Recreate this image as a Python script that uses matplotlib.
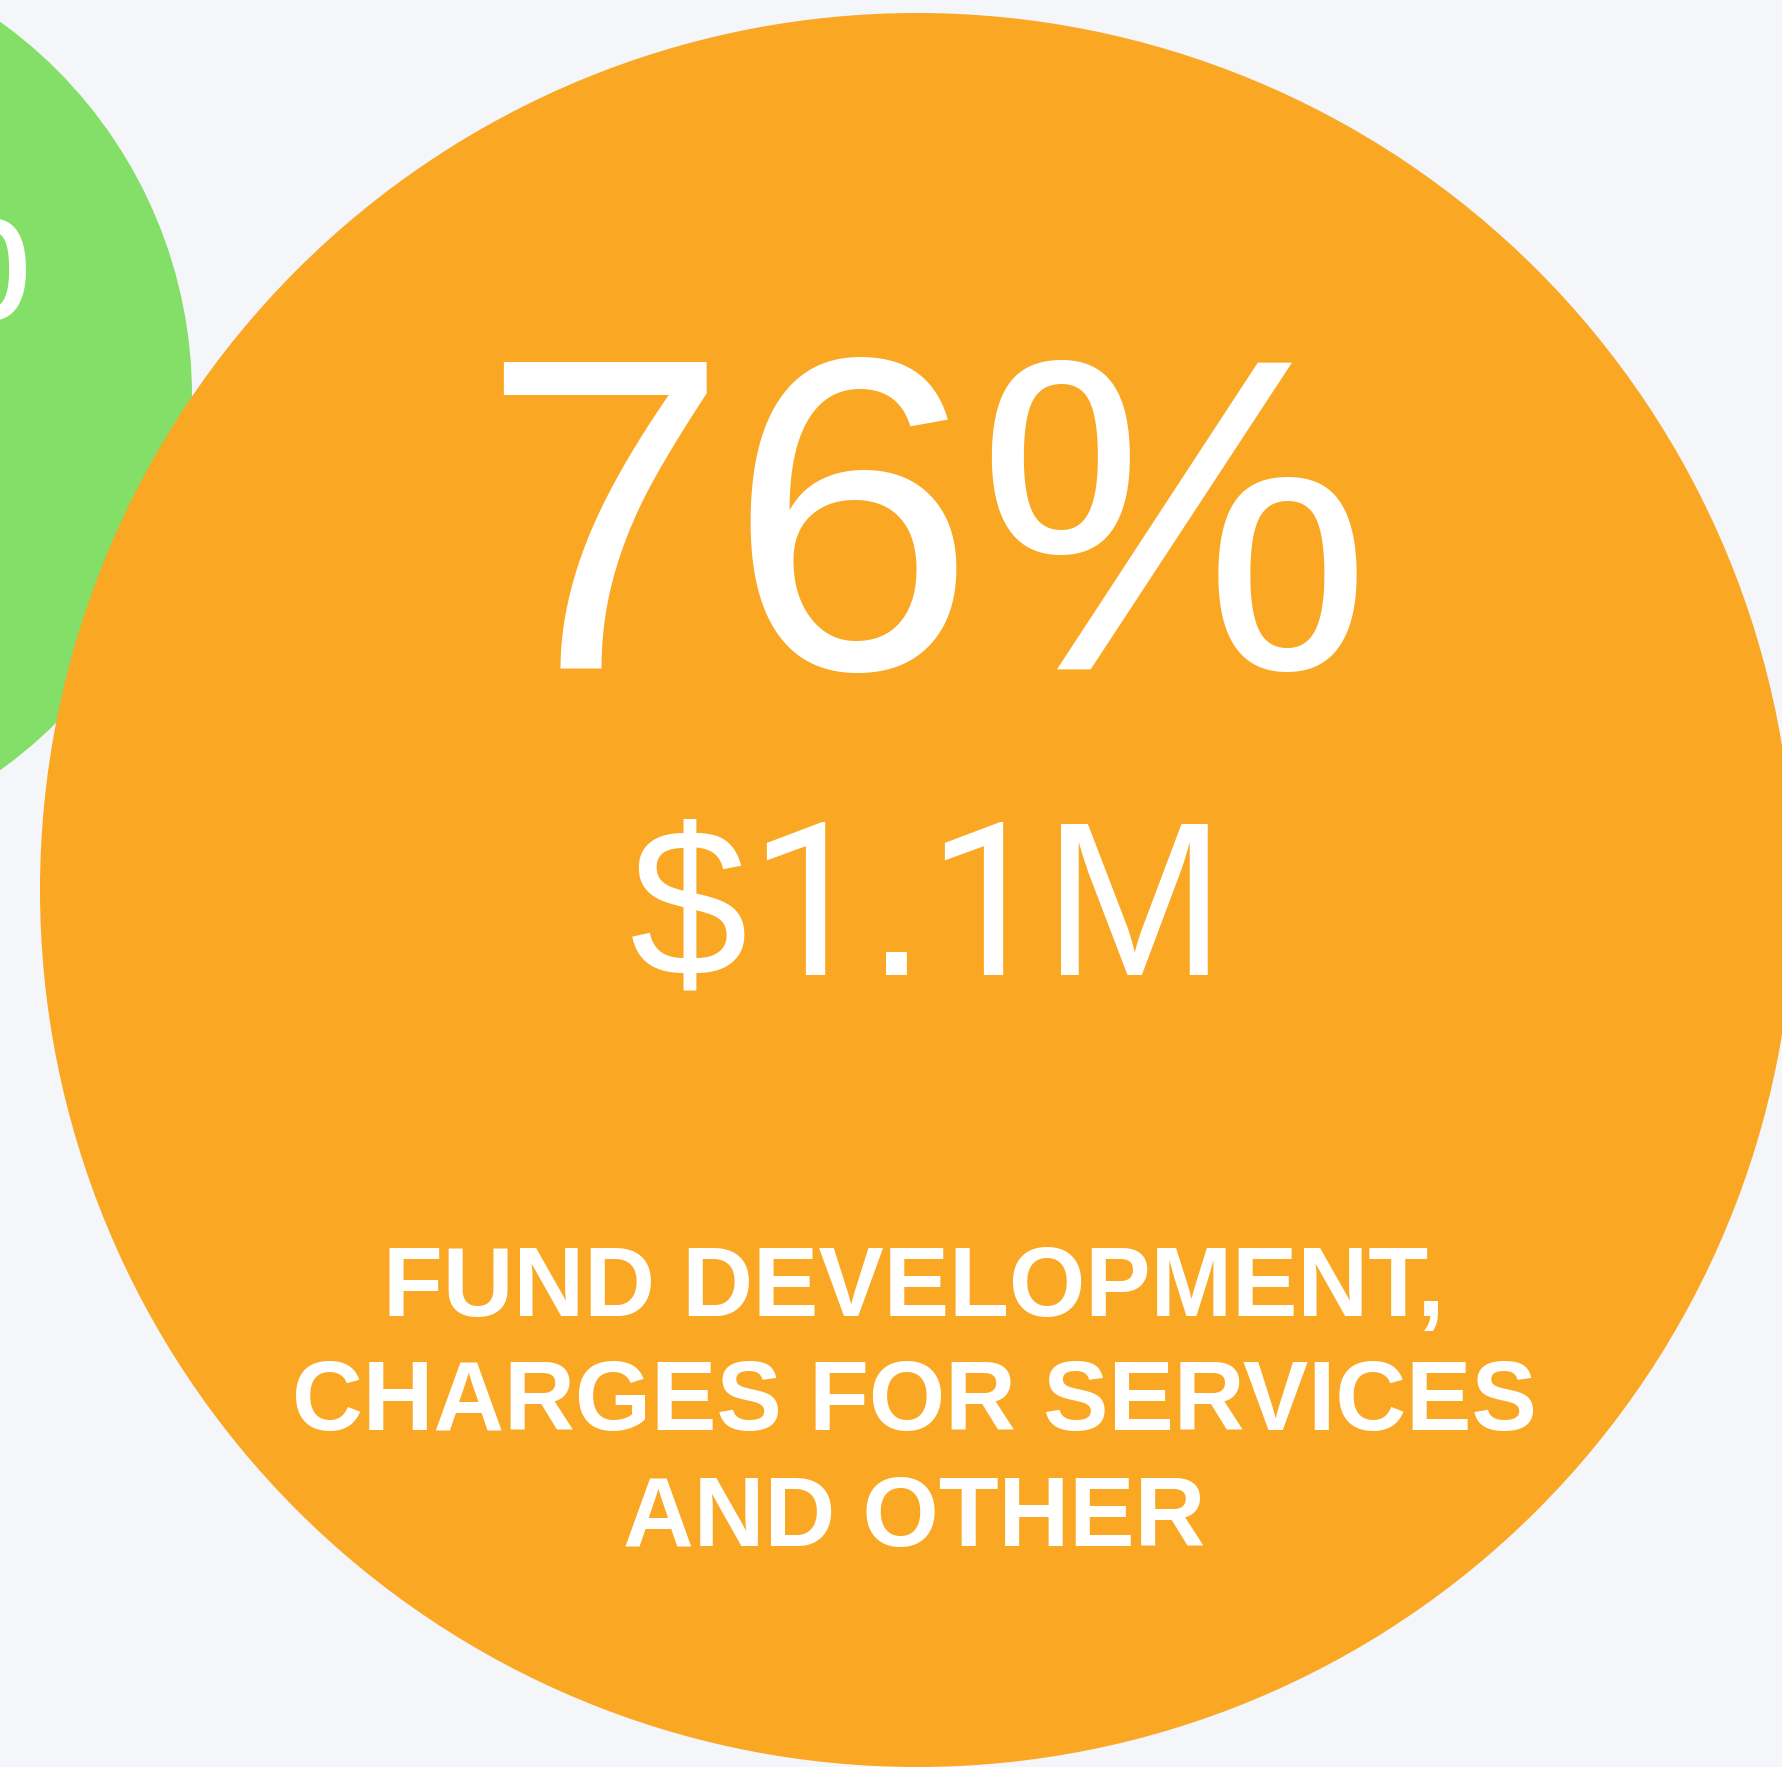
import matplotlib
matplotlib.use("Agg")
import matplotlib.pyplot as plt
from matplotlib.patches import Circle
import numpy as np

# ---- data ----
categories = ["FUND DEVELOPMENT,\nCHARGES FOR SERVICES\nAND OTHER", "OTHER REVENUE"]
percent_values = [76, 21]
amount_labels = ["$1.1M", "$0.3M"]
bubble_colors = ["#FAA724", "#83DF67"]

# ---- layout (pixel space) ----
W, H = 1783, 1767
BG = "#F4F6FA"
centers = [(917, 890), (-269, 396)]
r_max = 877
radii = [r_max * np.sqrt(v / max(percent_values)) for v in percent_values]

fig = plt.figure(figsize=(W / 100, H / 100), dpi=100)
fig.patch.set_facecolor(BG)
ax = fig.add_axes([0, 0, 1, 1])
ax.set_xlim(0, W)
ax.set_ylim(H, 0)
ax.axis("off")
ax.set_facecolor(BG)

for i in [1, 0]:
    cx, cy = centers[i]
    ax.add_patch(Circle((cx, cy), radii[i], facecolor=bubble_colors[i],
                        edgecolor="none", zorder=1 + (i == 0)))

px = 0.72  # pixels -> points at dpi 100
fam = "Liberation Sans"

# Arial-style advance widths (em) and ink-centre position inside the cell (em)
ADV = {"$": 0.556, "1": 0.556, ".": 0.278, "M": 0.833, "0": 0.556, "3": 0.556}
INK = {"$": 0.28, "1": 0.282, ".": 0.14, "M": 0.417, "0": 0.278, "3": 0.278}
SCALE = {"$": 0.99, ".": 1.025, "M": 1.025, "0": 1.025, "3": 1.025}


def draw_amount(text, x_center, baseline, em, zorder=5):
    total = sum(ADV[c] for c in text) * em
    pen = x_center - total / 2.0
    for ch in text:
        if ch == "1":
            family, sz = "Roboto", em * 1.0
        else:
            family, sz = fam, em * SCALE[ch]
        ax.text(pen + INK[ch] * em, baseline, ch, color="white", fontsize=sz * px,
                family=family, ha="center", va="baseline", zorder=zorder)
        pen += ADV[ch] * em


cx, cy = centers[0]
ax.text(cx + 9, 669, f"{percent_values[0]}%", color="white", fontsize=446 * px,
        family=fam, ha="center", va="baseline", zorder=5)
draw_amount(amount_labels[0], 926, 975, 214)
lines = categories[0].split("\n")
baselines = [1316, 1430, 1546]
for ln, b in zip(lines, baselines):
    ax.text(cx - 3, b, ln, color="white", fontsize=98 * px, family=fam,
            fontweight="bold", ha="center", va="baseline", zorder=5)

# green bubble percent (mostly off-canvas)
ax.text(-200, 320, f"{percent_values[1]}%", color="white", fontsize=234 * px,
        family=fam, ha="center", va="baseline", zorder=1.5)

fig.savefig("out.png", dpi=100, facecolor=BG)
